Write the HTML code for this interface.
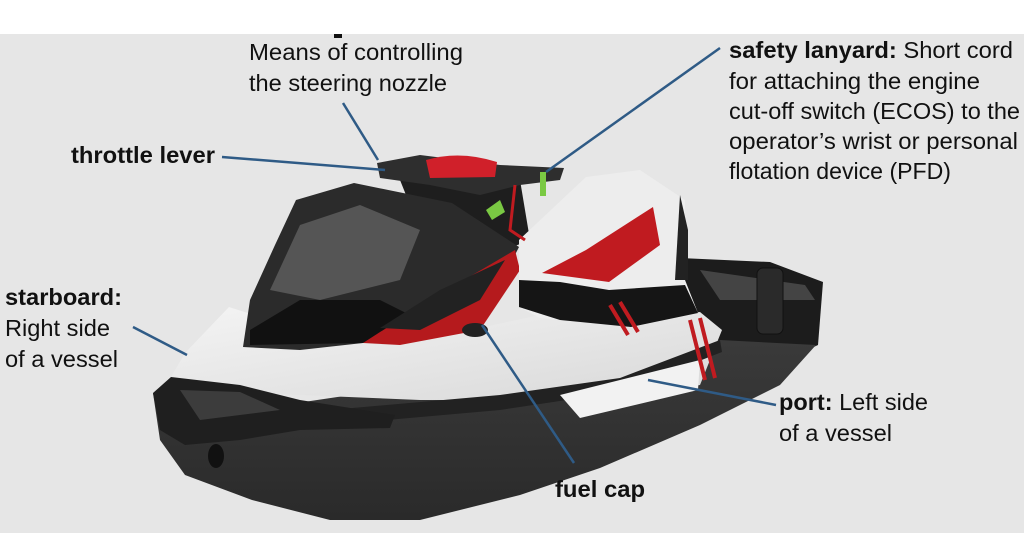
<!DOCTYPE html>
<html><head><meta charset="utf-8"><style>
html,body{margin:0;padding:0;background:#fff;}
svg{display:block}
text{font-family:"Liberation Sans",sans-serif;font-size:23px;fill:#111;}
.b{font-weight:bold}
</style></head><body>
<svg width="1024" height="533" viewBox="0 0 1024 533" xmlns="http://www.w3.org/2000/svg">
<rect x="0" y="0" width="1024" height="34" fill="#fff"/>
<rect x="0" y="34" width="1024" height="499" fill="#e6e6e6"/>
<rect x="334" y="34" width="8" height="4" fill="#111"/>
<defs>
<linearGradient id="hull" x1="0" y1="0" x2="0" y2="1"><stop offset="0" stop-color="#3a3a3a"/><stop offset="1" stop-color="#2a2a2a"/></linearGradient>
<linearGradient id="wh" x1="0" y1="0" x2="1" y2="1"><stop offset="0" stop-color="#f4f4f4"/><stop offset="1" stop-color="#d8d8d8"/></linearGradient>
</defs>
<!-- rear deck -->
<polygon points="680,258 770,262 823,282 818,345 760,372 700,380" fill="#1c1c1c"/>
<polygon points="700,270 805,285 815,300 720,300" fill="#444"/>
<rect x="757" y="268" width="26" height="66" rx="6" fill="#2a2a2a" stroke="#111"/>
<!-- hull -->
<path d="M153,393 L160,440 L185,475 L252,500 L330,520 L420,520 L520,495 L600,468 L700,425 L780,385 L816,345 L720,340 L250,410 Z" fill="url(#hull)"/>
<!-- white deck -->
<path d="M185,353 L229,307 L300,330 L380,345 L470,330 L540,315 L630,320 L700,312 L722,330 L700,385 L640,395 L560,400 L420,400 L300,395 L240,392 L171,377 Z" fill="url(#wh)"/>
<!-- dark rub stripe -->
<path d="M240,400 L330,410 L500,395 L620,378 L720,340 L722,352 L620,392 L500,410 L330,425 L250,418 Z" fill="#222"/>
<polygon points="560,395 700,360 698,390 580,418" fill="#f2f2f2"/>
<!-- bow bumper -->
<path d="M153,393 L171,377 L240,385 L300,400 L395,415 L390,428 L300,430 L240,440 L185,445 L160,430 Z" fill="#1f1f1f"/>
<polygon points="180,390 240,392 280,410 200,420" fill="#3c3c3c"/>
<!-- dash behind handlebar -->
<path d="M400,180 L520,180 L530,240 L480,260 L420,230 Z" fill="#1e1e1e"/>
<!-- cowling -->
<path d="M243,347 L250,300 L275,245 L296,200 L354,183 L452,203 L519,247 L497,290 L420,320 L363,343 L300,350 Z" fill="#2b2b2b"/>
<path d="M270,290 L300,225 L360,205 L420,230 L400,280 L320,300 Z" fill="#555"/>
<path d="M250,330 L300,300 L380,300 L420,320 L363,343 L250,345 Z" fill="#111"/>
<!-- grille + red -->
<path d="M363,343 L430,300 L515,250 L520,270 L480,330 L400,345 Z" fill="#b51a1d"/>
<path d="M380,328 L440,290 L505,260 L480,300 L420,330 Z" fill="#222"/>
<!-- seat -->
<path d="M519,240 L586,177 L640,170 L685,200 L685,280 L698,313 L631,327 L540,318 L519,307 Z" fill="#ededed"/>
<path d="M519,280 L560,282 L609,290 L685,285 L698,313 L631,327 L560,320 L519,307 Z" fill="#151515"/>
<path d="M542,273 L586,250 L653,207 L660,245 L609,282 Z" fill="#c01b20"/>
<path d="M680,195 L688,230 L688,280 L675,280 Z" fill="#222"/>
<!-- stripes -->
<g stroke="#c01b20" stroke-width="4"><line x1="610" y1="305" x2="628" y2="335"/><line x1="620" y1="302" x2="638" y2="332"/><line x1="690" y1="320" x2="705" y2="380"/><line x1="700" y1="318" x2="715" y2="378"/></g>
<!-- handlebar -->
<path d="M377,163 L420,155 L500,165 L564,168 L560,180 L520,185 L480,195 L430,185 L380,178 Z" fill="#2e2e2e"/>
<path d="M426,160 Q460,150 497,162 L495,177 L430,178 Z" fill="#d0202a"/>
<path d="M515,185 L510,230 L525,240" stroke="#c01b20" stroke-width="3" fill="none"/>
<rect x="540" y="172" width="6" height="24" fill="#7ac943"/>
<polygon points="486,210 500,200 505,212 492,220" fill="#7ac943"/>
<!-- fuel cap -->
<ellipse cx="475" cy="330" rx="13" ry="7" fill="#222"/>
<ellipse cx="216" cy="456" rx="8" ry="12" fill="#111"/>
<!-- leader lines -->
<g stroke="#2f5b86" stroke-width="2.5" fill="none">
<line x1="343" y1="103" x2="378" y2="160"/>
<line x1="222" y1="157" x2="385" y2="170"/>
<line x1="720" y1="48" x2="546" y2="172"/>
<line x1="133" y1="327" x2="187" y2="355"/>
<line x1="482" y1="325" x2="574" y2="463"/>
<line x1="648" y1="380" x2="776" y2="405"/>
</g>
<!-- labels -->
<text x="249" y="60" textLength="214" lengthAdjust="spacingAndGlyphs">Means of controlling</text>
<text x="249" y="91" textLength="198" lengthAdjust="spacingAndGlyphs">the steering nozzle</text>
<text x="71" y="163" class="b" textLength="144" lengthAdjust="spacingAndGlyphs">throttle lever</text>
<text x="729" y="58" textLength="284" lengthAdjust="spacingAndGlyphs"><tspan class="b">safety lanyard:</tspan> Short cord</text>
<text x="729" y="89" textLength="251" lengthAdjust="spacingAndGlyphs">for attaching the engine</text>
<text x="729" y="119" textLength="291" lengthAdjust="spacingAndGlyphs">cut-off switch (ECOS) to the</text>
<text x="729" y="149" textLength="289" lengthAdjust="spacingAndGlyphs">operator’s wrist or personal</text>
<text x="729" y="179" textLength="222" lengthAdjust="spacingAndGlyphs">flotation device (PFD)</text>
<text x="5" y="305" class="b" textLength="117" lengthAdjust="spacingAndGlyphs">starboard:</text>
<text x="5" y="336" textLength="105" lengthAdjust="spacingAndGlyphs">Right side</text>
<text x="5" y="367" textLength="113" lengthAdjust="spacingAndGlyphs">of a vessel</text>
<text x="779" y="410" textLength="149" lengthAdjust="spacingAndGlyphs"><tspan class="b">port:</tspan> Left side</text>
<text x="779" y="441" textLength="113" lengthAdjust="spacingAndGlyphs">of a vessel</text>
<text x="555" y="497" class="b" textLength="90" lengthAdjust="spacingAndGlyphs">fuel cap</text>
</svg>
</body></html>
